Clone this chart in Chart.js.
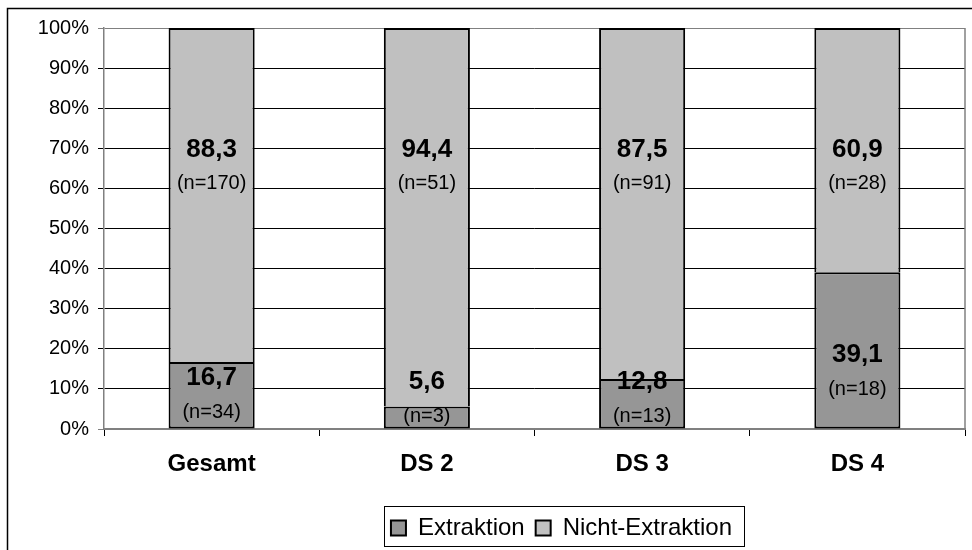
<!DOCTYPE html>
<html>
<head>
<meta charset="utf-8">
<script src="https://cdn.jsdelivr.net/npm/chart.js@4.4.1/dist/chart.umd.min.js"></script>
<style>
  html, body { margin: 0; padding: 0; background: #fff; }
  #wrap { width: 972px; height: 550px; }
</style>
</head>
<body>
<div id="wrap"><canvas id="extraktionChart" width="972" height="550"></canvas></div>
<script>
// Werte
const categories = ['Gesamt', 'DS 2', 'DS 3', 'DS 4'];
const extraktion = [16.7, 5.6, 12.5, 39.1];
const nichtExtraktion = [83.3, 94.4, 87.5, 60.9];
const extraktionLabels = ['16,7', '5,6', '12,8', '39,1'];
const nichtLabels = ['88,3', '94,4', '87,5', '60,9'];
const extraktionN = [34, 3, 13, 18];
const nichtN = [170, 51, 91, 28];

const FONT = '"Liberation Sans", Arial, sans-serif';
Chart.defaults.font.family = FONT;
Chart.defaults.color = '#000';

// outer frame, right border of plot area, legend box
const framePlugin = {
  id: 'frame',
  beforeDraw(chart) {
    const ctx = chart.ctx;
    ctx.save();
    ctx.fillStyle = '#fff';
    ctx.fillRect(0, 0, chart.width, chart.height);
    ctx.strokeStyle = '#000';
    ctx.lineWidth = 1.5;
    ctx.strokeRect(7.5, 8.5, 1000, 1000);
    ctx.restore();
  },
  beforeDatasetsDraw(chart) {
    const { ctx, chartArea } = chart;
    ctx.save();
    ctx.strokeStyle = '#808080';
    ctx.lineWidth = 1.5;
    ctx.beginPath();
    ctx.moveTo(chartArea.right, chartArea.top);
    ctx.lineTo(chartArea.right, chartArea.bottom);
    ctx.stroke();
    ctx.restore();
  },
  afterLayout(chart) {
    // legend is not centred on the canvas in the original
    const lg = chart.legend;
    const dx = 79;
    lg.left += dx;
    lg.right += dx;
  },
  afterDraw(chart) {
    const hb = chart.legend.legendHitBoxes;
    if (!hb || !hb.length) return;
    const first = hb[0], last = hb[hb.length - 1];
    const ctx = chart.ctx;
    ctx.save();
    ctx.strokeStyle = '#000';
    ctx.lineWidth = 1;
    const left = first.left - 7;
    const right = last.left + last.width + 12;
    const top = first.top - 10;
    const bottom = first.top + first.height + 6;
    ctx.strokeRect(Math.round(left) + 0.5, Math.round(top) + 0.5, Math.round(right - left), Math.round(bottom - top));
    ctx.restore();
  }
};

// value labels inside the bars
const labelPlugin = {
  id: 'barLabels',
  afterDatasetsDraw(chart) {
    const ctx = chart.ctx;
    const y = chart.scales.y;
    const bottom = chart.chartArea.bottom;
    ctx.save();
    ctx.textAlign = 'center';
    ctx.textBaseline = 'middle';
    ctx.fillStyle = '#000';

    chart.getDatasetMeta(0).data.forEach((bar, i) => {
      const mid = (bar.y + bar.base) / 2;
      const c = Math.max(bottom - 57, Math.min(mid, bottom - 30));
      ctx.font = 'bold 26px ' + FONT;
      ctx.fillText(extraktionLabels[i], bar.x, c - 17);
      ctx.font = '20px ' + FONT;
      ctx.fillText('(n=' + extraktionN[i] + ')', bar.x, c + 17);
    });

    chart.getDatasetMeta(1).data.forEach((bar, i) => {
      ctx.font = 'bold 26px ' + FONT;
      ctx.fillText(nichtLabels[i], bar.x, y.getPixelForValue(69.5));
      ctx.font = '20px ' + FONT;
      ctx.fillText('(n=' + nichtN[i] + ')', bar.x, y.getPixelForValue(61.2));
    });
    ctx.restore();
  }
};

new Chart(document.getElementById('extraktionChart').getContext('2d'), {
  type: 'bar',
  data: {
    labels: categories,
    datasets: [
      {
        label: 'Extraktion',
        data: extraktion,
        backgroundColor: '#969696',
        borderColor: '#000',
        borderWidth: 2,
        borderSkipped: false,
        barPercentage: 0.4,
        categoryPercentage: 1
      },
      {
        label: 'Nicht-Extraktion',
        data: nichtExtraktion,
        backgroundColor: '#c0c0c0',
        borderColor: '#000',
        borderWidth: 2,
        borderSkipped: 'start',
        barPercentage: 0.4,
        categoryPercentage: 1
      }
    ]
  },
  options: {
    responsive: false,
    animation: false,
    layout: { padding: { left: 0, right: 7, top: 28, bottom: 0 } },
    plugins: {
      legend: {
        position: 'bottom',
        labels: {
          boxWidth: 15,
          boxHeight: 15,
          padding: 11,
          font: { size: 24 }
        }
      },
      tooltip: { enabled: false }
    },
    scales: {
      x: {
        stacked: true,
        grid: {
          offset: true,
          drawOnChartArea: false,
          tickLength: 7,
          color: '#000'
        },
        border: { color: '#808080', width: 1.5 },
        ticks: { font: { size: 24, weight: 'bold' }, padding: 14 },
        afterFit(scale) { scale.height = 76; }
      },
      y: {
        stacked: true,
        min: 0,
        max: 100,
        ticks: {
          stepSize: 10,
          font: { size: 20 },
          padding: 9,
          callback: v => v + '%'
        },
        grid: {
          tickLength: 6,
          color: ctx => (ctx.tick && (ctx.tick.value === 100 || ctx.tick.value === 0)) ? '#808080' : '#000'
        },
        border: { color: '#808080', width: 1.5 },
        afterFit(scale) { scale.width = 104; }
      }
    }
  },
  plugins: [framePlugin, labelPlugin]
});
</script>
</body>
</html>
